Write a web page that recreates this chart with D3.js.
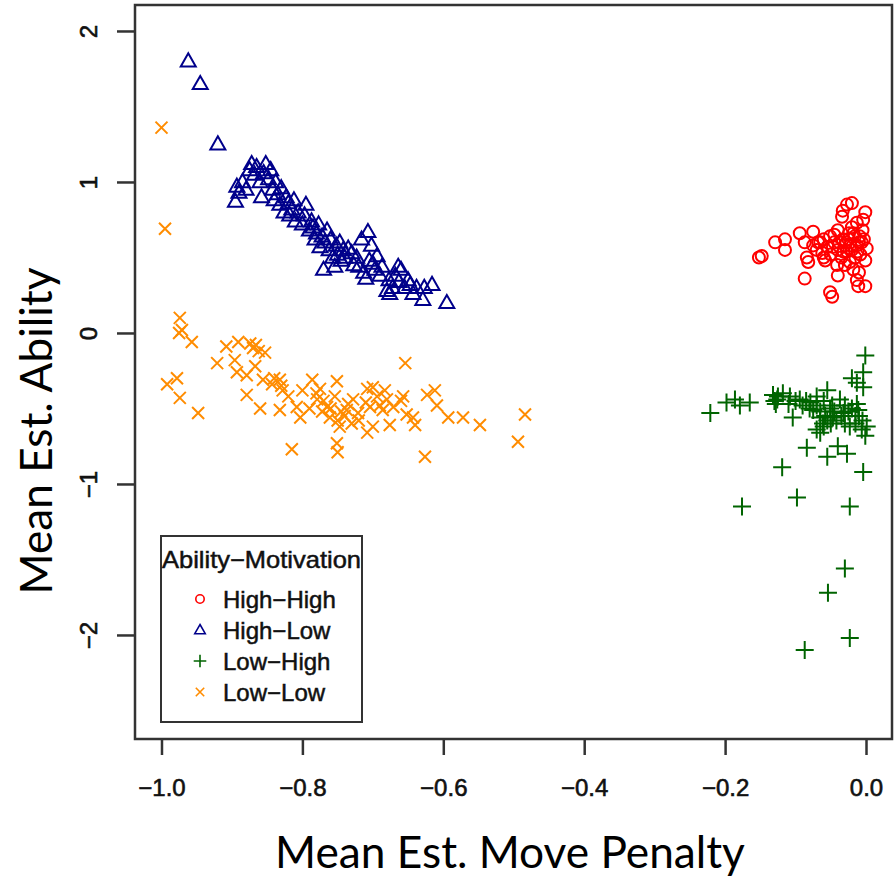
<!DOCTYPE html>
<html>
<head>
<meta charset="utf-8">
<script src="https://cdn.jsdelivr.net/npm/d3@7"></script>
<style>
  body { margin: 0; background: #fff; }
  svg { display: block; }
</style>
</head>
<body>
<svg id="chart" width="895" height="879"></svg>
<script>
// group names, in legend order
const groups = ["High\u2212High", "High\u2212Low", "Low\u2212High", "Low\u2212Low"];
const legendTitle = "Ability\u2212Motivation";

const xTicks = [-1.0, -0.8, -0.6, -0.4, -0.2, 0.0];
const yTicks = [2, 1, 0, -1, -2];

// [mean est. move penalty, mean est. ability]
const highHigh = [
  [-0.152, 0.50], [-0.148, 0.51], [-0.129, 0.60], [-0.115, 0.62], [-0.115, 0.55],
  [-0.094, 0.66], [-0.087, 0.60], [-0.084, 0.50], [-0.082, 0.47], [-0.087, 0.36],
  [-0.075, 0.67], [-0.068, 0.60], [-0.062, 0.53], [-0.058, 0.48], [-0.051, 0.27],
  [-0.048, 0.24], [-0.051, 0.64], [-0.047, 0.57], [-0.041, 0.45], [-0.040, 0.38],
  [-0.040, 0.68], [-0.034, 0.77], [-0.033, 0.81], [-0.027, 0.85], [-0.020, 0.86],
  [-0.033, 0.62], [-0.027, 0.54], [-0.023, 0.47], [-0.018, 0.42], [-0.013, 0.35],
  [-0.011, 0.31], [-0.001, 0.31], [-0.001, 0.80], [-0.004, 0.75], [-0.013, 0.73],
  [0.001, 0.56], [-0.001, 0.48], [-0.009, 0.64], [-0.013, 0.58], [-0.018, 0.66],
  [-0.070, 0.55], [-0.065, 0.60], [-0.060, 0.62], [-0.055, 0.57], [-0.050, 0.52],
  [-0.045, 0.60], [-0.040, 0.55], [-0.035, 0.50], [-0.030, 0.58], [-0.025, 0.62],
  [-0.020, 0.55], [-0.015, 0.50], [-0.010, 0.60], [-0.005, 0.68], [-0.075, 0.58],
  [-0.060, 0.50], [-0.045, 0.65], [-0.030, 0.45], [-0.020, 0.70], [-0.010, 0.40],
  [-0.028, 0.60], [-0.022, 0.58], [-0.016, 0.64], [-0.012, 0.54], [-0.006, 0.60],
  [-0.038, 0.60], [-0.032, 0.54], [-0.024, 0.66], [-0.008, 0.52], [-0.003, 0.62]
];

const highLow = [
  [-0.962, 1.80], [-0.945, 1.65], [-0.920, 1.25],
  [-0.895, 0.87], [-0.893, 0.97], [-0.890, 0.93], [-0.885, 1.00], [-0.880, 0.95],
  [-0.875, 1.08], [-0.872, 1.12], [-0.868, 1.05], [-0.865, 1.10], [-0.860, 1.00],
  [-0.858, 0.90], [-0.855, 1.06], [-0.852, 1.12], [-0.848, 1.02], [-0.845, 1.08],
  [-0.842, 0.95], [-0.840, 0.88], [-0.838, 1.00], [-0.835, 0.92], [-0.832, 0.85],
  [-0.830, 0.96], [-0.826, 0.80], [-0.823, 0.90], [-0.820, 0.86], [-0.818, 0.78],
  [-0.815, 0.82], [-0.812, 0.88], [-0.810, 0.74], [-0.806, 0.80], [-0.800, 0.72],
  [-0.797, 0.78], [-0.795, 0.85], [-0.790, 0.68], [-0.787, 0.74], [-0.785, 0.70],
  [-0.782, 0.62], [-0.780, 0.66], [-0.777, 0.72], [-0.775, 0.57], [-0.772, 0.64],
  [-0.770, 0.42], [-0.768, 0.60], [-0.765, 0.68], [-0.762, 0.55], [-0.760, 0.62],
  [-0.757, 0.50], [-0.754, 0.44], [-0.752, 0.58], [-0.750, 0.52], [-0.747, 0.60],
  [-0.745, 0.48], [-0.742, 0.55], [-0.740, 0.50], [-0.735, 0.56], [-0.730, 0.53],
  [-0.727, 0.45], [-0.723, 0.50], [-0.720, 0.44], [-0.716, 0.62], [-0.713, 0.40],
  [-0.710, 0.36], [-0.707, 0.67], [-0.705, 0.48], [-0.702, 0.58], [-0.700, 0.46],
  [-0.697, 0.42], [-0.694, 0.51], [-0.690, 0.38], [-0.687, 0.44], [-0.680, 0.28],
  [-0.677, 0.35], [-0.676, 0.26], [-0.672, 0.30], [-0.668, 0.38], [-0.664, 0.44],
  [-0.663, 0.34], [-0.660, 0.42], [-0.655, 0.30], [-0.650, 0.35], [-0.647, 0.32],
  [-0.643, 0.26], [-0.638, 0.30], [-0.629, 0.22], [-0.627, 0.30], [-0.616, 0.32],
  [-0.595, 0.20]
];

const lowHigh = [
  [-0.001, -0.15], [-0.004, -0.26], [-0.020, -0.30], [-0.004, -0.36], [-0.013, -0.33],
  [-0.221, -0.53], [-0.198, -0.46], [-0.186, -0.44], [-0.179, -0.48], [-0.165, -0.46],
  [-0.132, -0.41], [-0.126, -0.44], [-0.118, -0.40], [-0.108, -0.42], [-0.104, -0.56],
  [-0.094, -0.44], [-0.084, -0.76], [-0.079, -0.46], [-0.070, -0.42], [-0.075, -0.51],
  [-0.065, -0.56], [-0.070, -0.64], [-0.061, -0.60], [-0.055, -0.82], [-0.055, -0.38],
  [-0.051, -0.50], [-0.047, -0.56], [-0.040, -0.75], [-0.027, -0.80], [-0.037, -0.44],
  [-0.032, -0.53], [-0.023, -0.62], [-0.013, -0.47], [-0.011, -0.51], [-0.006, -0.64],
  [-0.001, -0.68], [0.001, -0.62], [-0.004, -0.92], [-0.119, -0.89], [-0.098, -1.09],
  [-0.176, -1.15], [-0.023, -1.15], [-0.030, -1.56], [-0.054, -1.72], [-0.023, -2.02],
  [-0.087, -2.10],
  [-0.070, -0.48], [-0.065, -0.52], [-0.060, -0.45], [-0.058, -0.55], [-0.055, -0.58],
  [-0.050, -0.60], [-0.048, -0.48], [-0.045, -0.52], [-0.042, -0.58], [-0.060, -0.62],
  [-0.065, -0.66], [-0.035, -0.55], [-0.030, -0.48], [-0.025, -0.52], [-0.020, -0.50],
  [-0.015, -0.55], [-0.080, -0.50], [-0.085, -0.45], [-0.090, -0.48], [-0.100, -0.45],
  [-0.110, -0.47], [-0.125, -0.42], [-0.128, -0.47], [-0.130, -0.45], [-0.015, -0.60],
  [-0.010, -0.55], [-0.005, -0.58], [-0.030, -0.60]
];

const lowLow = [
  [-1.000, 1.36], [-0.995, 0.69],
  [-0.974, 0.10], [-0.975, 0.00], [-0.971, 0.02], [-0.957, -0.06], [-0.992, -0.34],
  [-0.978, -0.30], [-0.974, -0.43], [-0.948, -0.53], [-0.908, -0.09], [-0.891, -0.06],
  [-0.874, -0.07], [-0.870, -0.10], [-0.853, -0.13], [-0.921, -0.20], [-0.896, -0.18],
  [-0.893, -0.26], [-0.867, -0.22], [-0.879, -0.28], [-0.856, -0.31], [-0.879, -0.41],
  [-0.860, -0.50], [-0.843, -0.34], [-0.832, -0.31], [-0.828, -0.38], [-0.820, -0.42],
  [-0.832, -0.51], [-0.808, -0.49], [-0.803, -0.56], [-0.815, -0.77], [-0.786, -0.31],
  [-0.775, -0.37], [-0.779, -0.44], [-0.765, -0.49], [-0.751, -0.32], [-0.754, -0.42],
  [-0.761, -0.56], [-0.747, -0.62], [-0.751, -0.73], [-0.750, -0.79], [-0.737, -0.51],
  [-0.728, -0.44], [-0.721, -0.53], [-0.708, -0.37], [-0.700, -0.36], [-0.694, -0.42],
  [-0.704, -0.49], [-0.708, -0.66], [-0.700, -0.62], [-0.683, -0.38], [-0.686, -0.51],
  [-0.671, -0.49], [-0.676, -0.61], [-0.657, -0.42], [-0.654, -0.20], [-0.652, -0.54],
  [-0.643, -0.56], [-0.640, -0.61], [-0.623, -0.41], [-0.612, -0.38], [-0.609, -0.48],
  [-0.593, -0.56], [-0.572, -0.56], [-0.548, -0.61], [-0.626, -0.82], [-0.484, -0.54],
  [-0.494, -0.72],
  [-0.780, -0.40], [-0.770, -0.45], [-0.760, -0.50], [-0.740, -0.55], [-0.730, -0.60],
  [-0.720, -0.58], [-0.710, -0.46], [-0.690, -0.48], [-0.680, -0.44], [-0.660, -0.45],
  [-0.840, -0.30], [-0.830, -0.35], [-0.800, -0.38], [-0.790, -0.50], [-0.750, -0.58],
  [-0.866, -0.08], [-0.862, -0.12], [-0.772, -0.52], [-0.745, -0.52], [-0.735, -0.47]
];

const svg = d3.select("#chart");
const margin = { left: 135, right: 3, top: 5, bottom: 140 };
const W = +svg.attr("width"), H = +svg.attr("height");

const x = d3.scaleLinear().domain([-1.0376, 0.0369]).range([margin.left, W - margin.right]);
const y = d3.scaleLinear().domain([2.172, -2.689]).range([margin.top, H - margin.bottom]);

const tickFont = "'Liberation Sans', Arial, sans-serif";
const titleFont = "Lato, 'Open Sans', sans-serif";

// custom R-like plotting symbols
const symCircle = { draw(c, r) { c.moveTo(r, 0); c.arc(0, 0, r, 0, 2 * Math.PI); } };
const symTriangle = { draw(c, r) {
  const h = r * 1.75;
  c.moveTo(0, -h * 0.6); c.lineTo(r, h * 0.4); c.lineTo(-r, h * 0.4); c.closePath();
} };
const symPlus = { draw(c, r) { c.moveTo(-r, 0); c.lineTo(r, 0); c.moveTo(0, -r); c.lineTo(0, r); } };
const symCross = { draw(c, r) { c.moveTo(-r, -r); c.lineTo(r, r); c.moveTo(-r, r); c.lineTo(r, -r); } };

const series = [
  { name: groups[0], data: highHigh, type: symCircle, size: 6, color: "#ff0000" },
  { name: groups[1], data: highLow, type: symTriangle, size: 7.5, color: "#00008b" },
  { name: groups[2], data: lowHigh, type: symPlus, size: 9, color: "#006400" },
  { name: groups[3], data: lowLow, type: symCross, size: 6, color: "#ff8c00" }
];

function symbolPath(s, k) {
  const p = d3.path();
  s.type.draw(p, s.size * k);
  return p.toString();
}

// points
series.forEach(s => {
  svg.append("g")
    .selectAll("path")
    .data(s.data)
    .join("path")
    .attr("transform", d => `translate(${x(d[0])},${y(d[1])})`)
    .attr("d", symbolPath(s, 1))
    .attr("fill", "none")
    .attr("stroke", s.color)
    .attr("stroke-width", 2);
});

// frame
svg.append("rect")
  .attr("x", margin.left).attr("y", margin.top)
  .attr("width", W - margin.right - margin.left)
  .attr("height", H - margin.bottom - margin.top)
  .attr("fill", "none").attr("stroke", "#333").attr("stroke-width", 2.5);

// x axis
const xAxis = svg.append("g")
  .attr("transform", `translate(0,${H - margin.bottom})`)
  .call(d3.axisBottom(x).tickValues(xTicks).tickSize(16).tickPadding(24).tickFormat(d3.format(".1f")));
xAxis.select(".domain").remove();
xAxis.selectAll("line").attr("stroke", "#333").attr("stroke-width", 2.5);
xAxis.selectAll("text")
  .text(d => d3.format(".1f")(d).replace("-", "\u2212"))
  .attr("fill", "#111").attr("stroke", "#111").attr("stroke-width", 0.6)
  .style("font-family", tickFont).style("font-size", "24px");

// y axis
const yAxis = svg.append("g")
  .attr("transform", `translate(${margin.left},0)`)
  .call(d3.axisLeft(y).tickValues(yTicks).tickSize(18));
yAxis.select(".domain").remove();
yAxis.selectAll("line").attr("stroke", "#333").attr("stroke-width", 2.5);
yAxis.selectAll("text")
  .text(d => String(d).replace("-", "\u2212"))
  .attr("x", 0).attr("dy", 0)
  .attr("text-anchor", "middle")
  .attr("transform", "translate(-38,0) rotate(-90)")
  .attr("fill", "#111").attr("stroke", "#111").attr("stroke-width", 0.6)
  .style("font-family", tickFont).style("font-size", "24px");

// axis titles
const xTitle = svg.append("text")
  .attr("x", 510).attr("y", 868)
  .attr("text-anchor", "middle")
  .style("font-family", titleFont).style("font-size", "44px")
  .attr("fill", "#000")
  .text("Mean Est. Move Penalty");
const xw = xTitle.node().getComputedTextLength();
xTitle.style("font-size", (44 * 470 / xw) + "px");

const yTitle = svg.append("text")
  .attr("transform", "translate(52,431) rotate(-90)")
  .attr("text-anchor", "middle")
  .style("font-family", titleFont).style("font-size", "44px")
  .attr("fill", "#000")
  .text("Mean Est. Ability");
const yw = yTitle.node().getComputedTextLength();
yTitle.style("font-size", (44 * 327 / yw) + "px");

// legend
const lg = svg.append("g").attr("transform", "translate(161,536)");
lg.append("rect")
  .attr("width", 201).attr("height", 186)
  .attr("fill", "#fff").attr("stroke", "#333").attr("stroke-width", 2);
lg.append("text")
  .attr("x", 1).attr("y", 32)
  .style("font-family", tickFont).style("font-size", "24px")
  .attr("fill", "#111").attr("stroke", "#111").attr("stroke-width", 0.5)
  .attr("textLength", 199).attr("lengthAdjust", "spacingAndGlyphs")
  .text(legendTitle);

series.forEach((s, i) => {
  const row = lg.append("g").attr("transform", `translate(39,${63 + i * 31})`);
  row.append("path")
    .attr("d", symbolPath(s, 0.7))
    .attr("fill", "none").attr("stroke", s.color).attr("stroke-width", 1.6);
  row.append("text")
    .attr("x", 23).attr("y", 9)
    .style("font-family", tickFont).style("font-size", "24px")
    .attr("fill", "#111").attr("stroke", "#111").attr("stroke-width", 0.5)
    .text(s.name);
});
</script>
</body>
</html>
